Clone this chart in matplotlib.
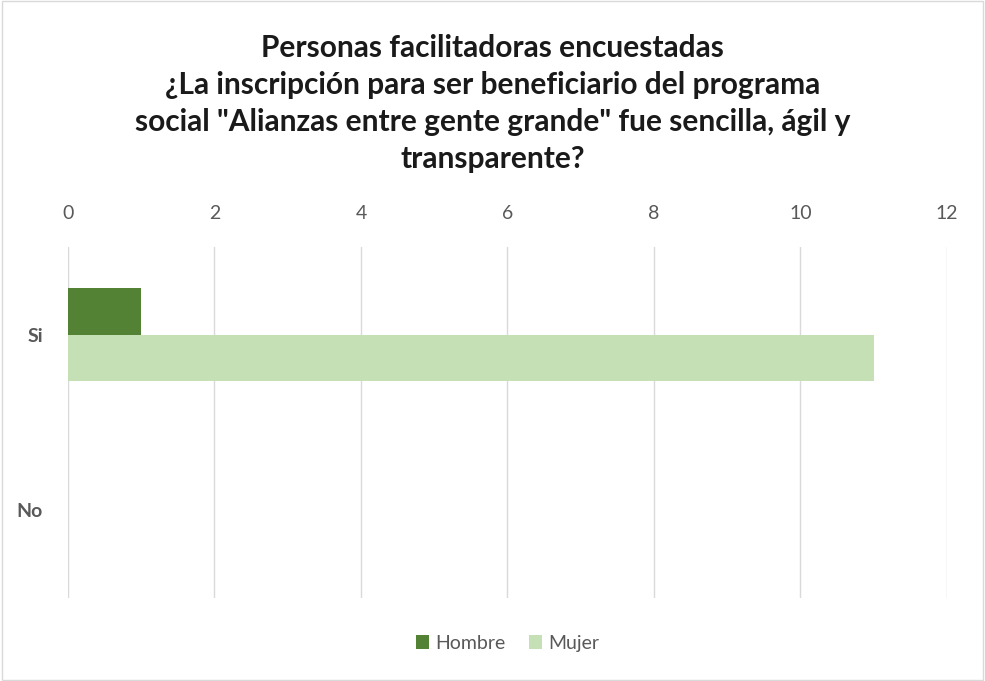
import matplotlib.pyplot as plt
import numpy as np

categorias = ["Si", "No"]
hombre = [1, 0]
mujer = [11, 0]
ticks_x = [0, 2, 4, 6, 8, 10, 12]

plt.rcParams['font.family'] = ['Lato', 'DejaVu Sans']

fig = plt.figure(figsize=(9.85, 6.81), dpi=100)
ax = fig.add_axes([0.069, 0.122, 0.8924, 0.515])

y = np.arange(len(categorias))
alto = 0.265
ax.barh(y - alto / 2, hombre, height=alto, color="#548235", label="Hombre")
ax.barh(y + alto / 2, mujer, height=alto, color="#C5E0B4", label="Mujer")

ax.set_xlim(0, 12)
ax.set_ylim(1.5, -0.5)
ax.set_xticks(ticks_x)
ax.set_yticks(y)
ax.set_yticklabels(categorias, fontweight="bold")
ax.xaxis.tick_top()
ax.tick_params(axis="x", length=0, labelsize=14, colors="#595959", pad=18)
ax.tick_params(axis="y", length=0, labelsize=14, colors="#595959", pad=18)
ax.grid(axis="x", color="#D9D9D9", linewidth=1)
ax.set_axisbelow(True)
for s in ax.spines.values():
    s.set_visible(False)

fig.text(0.5, 0.848,
         "Personas facilitadoras encuestadas\n"
         "¿La inscripción para ser beneficiario del programa\n"
         "social \"Alianzas entre gente grande\" fue sencilla, ágil y\n"
         "transparente?",
         ha="center", va="center", fontsize=21.5, fontweight="bold",
         color="#1a1a1a", linespacing=1.4)

ax.legend(loc="upper center", bbox_to_anchor=(0.5, -0.055), ncol=2, frameon=False,
          fontsize=14, handlelength=0.7, handleheight=0.7, columnspacing=1.2,
          handletextpad=0.3, labelcolor="#595959")

fig.patches.append(plt.Rectangle((0.002, 0.002), 0.996, 0.996, transform=fig.transFigure,
                                 fill=False, edgecolor="#D9D9D9", linewidth=1))

plt.savefig("out.png", dpi=100)
